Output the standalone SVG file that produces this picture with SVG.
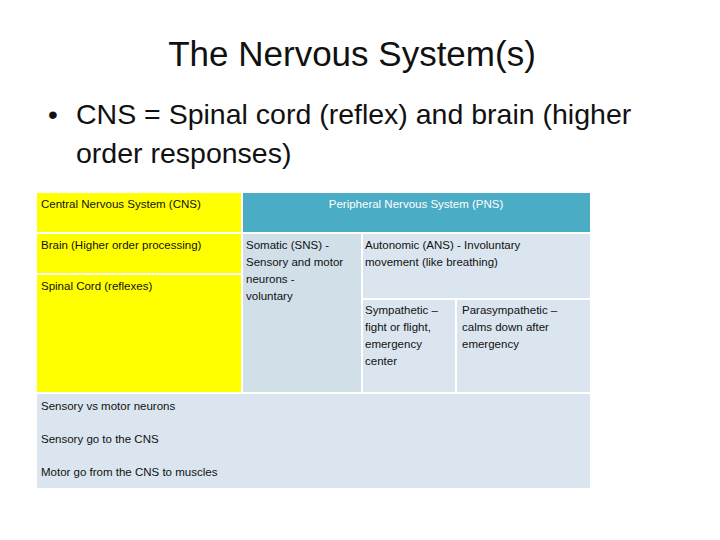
<svg xmlns="http://www.w3.org/2000/svg" width="720" height="540" viewBox="0 0 720 540">
<style>
text{font-family:"Liberation Sans",Arial,sans-serif;fill:#111}
.t{font-size:11.5px}
.w{fill:#fff}
.y{fill:#ffff00}
.lb{fill:#d0dfe8}
.pb{fill:#dbe5ef}
</style>
<rect width="720" height="540" fill="#fff"/>
<text x="352" y="66" font-size="35" text-anchor="middle">The Nervous System(s)</text>
<text x="48" y="124" font-size="28">•</text>
<text x="76" y="124" font-size="28.5">CNS = Spinal cord  (reflex) and brain (higher</text>
<text x="76" y="163" font-size="28.5">order responses)</text>
<g id="cns-header"><rect x="37" y="193" width="204" height="39" class="y"/><text class="t" x="41" y="208">Central Nervous System (CNS)</text></g>
<g id="pns-header"><rect x="243" y="193" width="347" height="39" fill="#4bacc6"/><text class="t w" x="416" y="208" text-anchor="middle">Peripheral Nervous System (PNS)</text></g>
<g id="brain"><rect x="37" y="234" width="204" height="39" class="y"/><text class="t" x="41" y="249">Brain (Higher order processing)</text></g>
<g id="spinal"><rect x="37" y="275" width="204" height="117" class="y"/><text class="t" x="41" y="290">Spinal Cord (reflexes)</text></g>
<g id="somatic"><rect x="243" y="234" width="118" height="158" class="lb"/><text class="t" x="246" y="249">Somatic (SNS) -</text><text class="t" x="246" y="266">Sensory and motor</text><text class="t" x="246" y="283">neurons -</text><text class="t" x="246" y="300">voluntary</text></g>
<g id="autonomic"><rect x="363" y="234" width="227" height="64" class="pb"/><text class="t" x="365" y="249">Autonomic (ANS) - Involuntary</text><text class="t" x="365" y="266">movement (like breathing)</text></g>
<g id="sympathetic"><rect x="363" y="300" width="92" height="92" class="pb"/><text class="t" x="365" y="314">Sympathetic –</text><text class="t" x="365" y="331">fight or flight,</text><text class="t" x="365" y="348">emergency</text><text class="t" x="365" y="365">center</text></g>
<g id="parasympathetic"><rect x="457" y="300" width="133" height="92" class="pb"/><text class="t" x="462" y="314">Parasympathetic –</text><text class="t" x="462" y="331">calms down after</text><text class="t" x="462" y="348">emergency</text></g>
<g id="neurons"><rect x="37" y="394" width="553" height="94" class="pb"/><text class="t" x="41" y="410">Sensory vs motor neurons</text><text class="t" x="41" y="443">Sensory go to the CNS</text><text class="t" x="41" y="476">Motor go from the CNS to muscles</text></g>
<g id="connectors"/>
</svg>
